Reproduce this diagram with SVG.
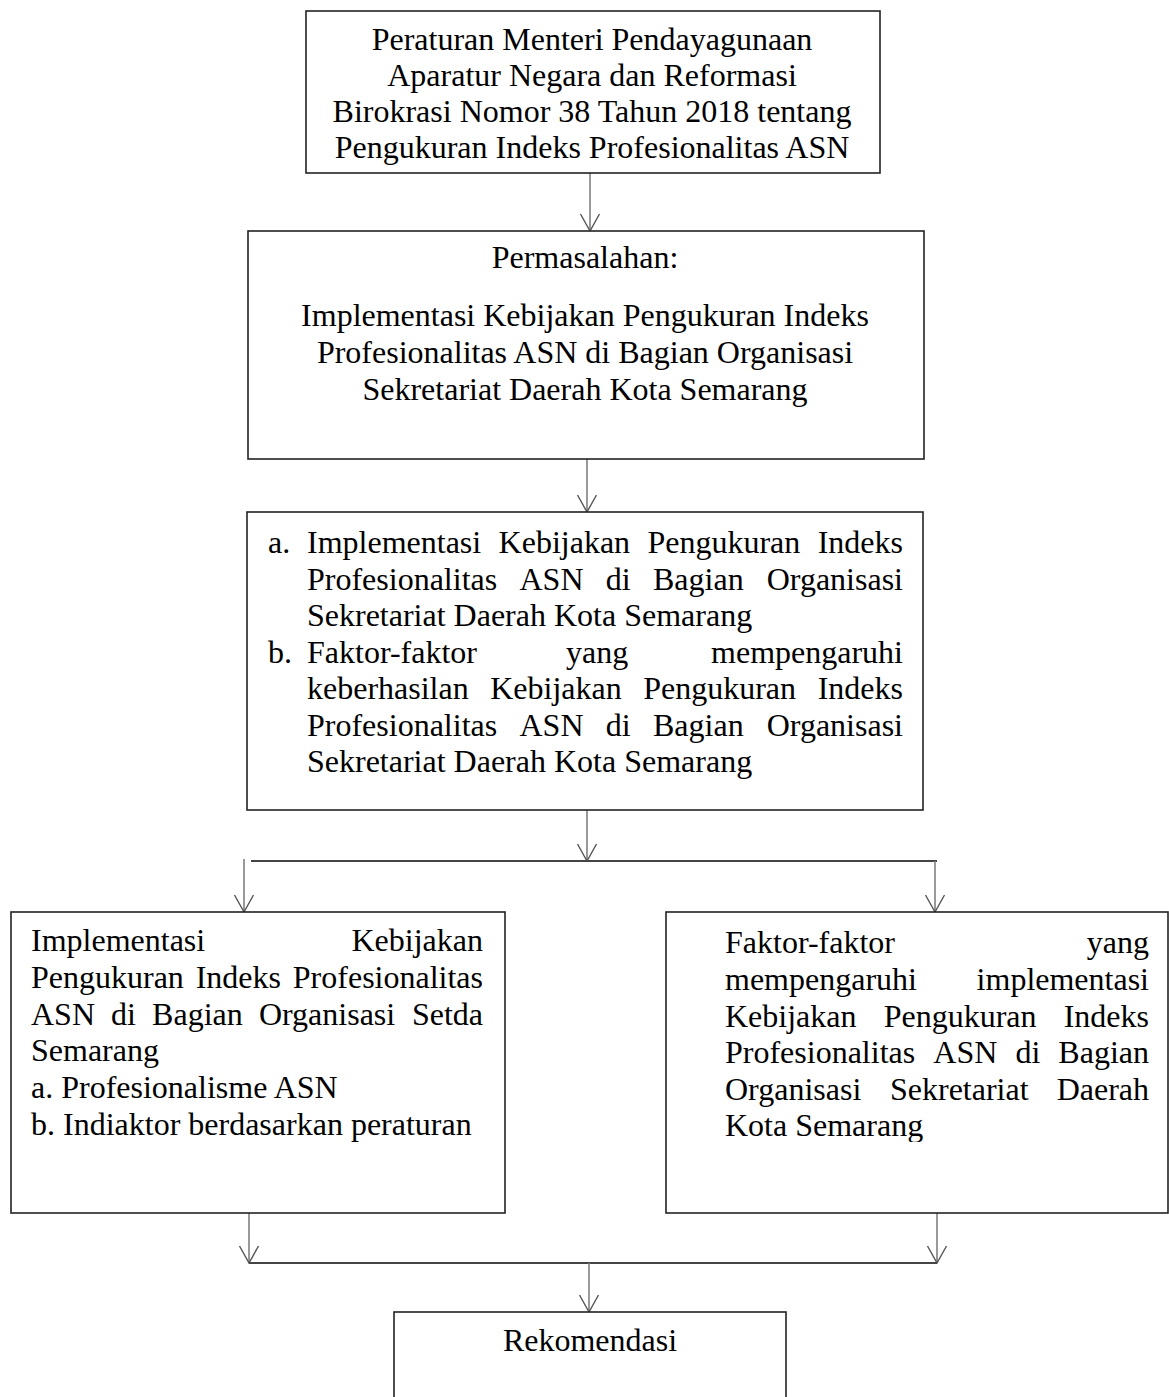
<svg xmlns="http://www.w3.org/2000/svg" width="1169" height="1397" viewBox="0 0 1169 1397">
<style>
.box{fill:#fff;stroke:#222;stroke-width:1.6}
.t{font-family:"Liberation Serif","Times New Roman",serif;font-size:32px;fill:#000}
.c{text-anchor:middle}
.e{text-anchor:end}
.con{stroke:#808080;stroke-width:1.6;fill:none}
.bar{stroke:#444;stroke-width:2;fill:none}
</style>
<defs>
<marker id="ah" markerUnits="userSpaceOnUse" viewBox="-1 -11 19 22" markerWidth="19" markerHeight="22" refX="17" refY="0" orient="auto">
<path d="M0,-9.5 L17,0 L0,9.5" fill="none" stroke="#555" stroke-width="1.4"/>
</marker>
<clipPath id="clipR"><rect x="666" y="900" width="503" height="242"/></clipPath>
</defs>
<rect width="1169" height="1397" fill="#fff"/>

<g id="connectors">
<line class="con" x1="590" y1="173" x2="590" y2="231" marker-end="url(#ah)"/>
<line class="con" x1="587" y1="459" x2="587" y2="512" marker-end="url(#ah)"/>
<line class="con" x1="587" y1="810" x2="587" y2="861" marker-end="url(#ah)"/>
<line class="bar" x1="251" y1="861" x2="937" y2="861"/>
<line class="con" x1="244" y1="859" x2="244" y2="912" marker-end="url(#ah)"/>
<line class="con" x1="935" y1="861" x2="935" y2="912" marker-end="url(#ah)"/>
<line class="con" x1="249" y1="1213" x2="249" y2="1263" marker-end="url(#ah)"/>
<line class="con" x1="937" y1="1213" x2="937" y2="1263" marker-end="url(#ah)"/>
<line class="bar" x1="249" y1="1263" x2="937" y2="1263"/>
<line class="con" x1="589" y1="1263" x2="589" y2="1312" marker-end="url(#ah)"/>
</g>

<g id="node-peraturan">
<rect class="box" x="306" y="11" width="574" height="162"/>
<text class="t c" x="592" y="50">Peraturan Menteri Pendayagunaan</text>
<text class="t c" x="592" y="86">Aparatur Negara dan Reformasi</text>
<text class="t c" x="592" y="122">Birokrasi Nomor 38 Tahun 2018 tentang</text>
<text class="t c" x="592" y="158">Pengukuran Indeks Profesionalitas ASN</text>
</g>

<g id="node-permasalahan">
<rect class="box" x="248" y="231" width="676" height="228"/>
<text class="t c" x="585" y="268">Permasalahan:</text>
<text class="t c" x="585" y="326">Implementasi Kebijakan Pengukuran Indeks</text>
<text class="t c" x="585" y="363">Profesionalitas ASN di Bagian Organisasi</text>
<text class="t c" x="585" y="400">Sekretariat Daerah Kota Semarang</text>
</g>

<g id="node-rumusan">
<rect class="box" x="247" y="512" width="676" height="298"/>
<text class="t" y="553"><tspan x="268">a.</tspan><tspan x="307">Implementasi</tspan><tspan x="498.6">Kebijakan</tspan><tspan x="647.4">Pengukuran</tspan><tspan class="e" x="903">Indeks</tspan></text>
<text class="t" y="589.5"><tspan x="307">Profesionalitas</tspan><tspan x="519.5">ASN</tspan><tspan x="605.8">di</tspan><tspan x="653">Bagian</tspan><tspan class="e" x="903">Organisasi</tspan></text>
<text class="t" x="307" y="626">Sekretariat Daerah Kota Semarang</text>
<text class="t" y="662.5"><tspan x="268">b.</tspan><tspan x="307">Faktor-faktor</tspan><tspan x="566">yang</tspan><tspan class="e" x="903">mempengaruhi</tspan></text>
<text class="t" y="699"><tspan x="307">keberhasilan</tspan><tspan x="490.2">Kebijakan</tspan><tspan x="643.2">Pengukuran</tspan><tspan class="e" x="903">Indeks</tspan></text>
<text class="t" y="735.5"><tspan x="307">Profesionalitas</tspan><tspan x="519.5">ASN</tspan><tspan x="605.8">di</tspan><tspan x="653">Bagian</tspan><tspan class="e" x="903">Organisasi</tspan></text>
<text class="t" x="307" y="772">Sekretariat Daerah Kota Semarang</text>
</g>

<g id="node-implementasi">
<rect class="box" x="11" y="912" width="494" height="301"/>
<text class="t" y="951"><tspan x="31">Implementasi</tspan><tspan class="e" x="483">Kebijakan</tspan></text>
<text class="t" y="988"><tspan x="31">Pengukuran</tspan><tspan x="195.7">Indeks</tspan><tspan class="e" x="483">Profesionalitas</tspan></text>
<text class="t" y="1024.5"><tspan x="31">ASN</tspan><tspan x="111.1">di</tspan><tspan x="152.1">Bagian</tspan><tspan x="258.9">Organisasi</tspan><tspan class="e" x="483">Setda</tspan></text>
<text class="t" x="31" y="1061">Semarang</text>
<text class="t" x="31" y="1098">a. Profesionalisme ASN</text>
<text class="t" x="31" y="1135">b. Indiaktor berdasarkan peraturan</text>
</g>

<g id="node-faktor">
<rect class="box" x="666" y="912" width="502" height="301"/>
<text class="t" y="953"><tspan x="725">Faktor-faktor</tspan><tspan class="e" x="1149">yang</tspan></text>
<text class="t" y="990"><tspan x="725">mempengaruhi</tspan><tspan class="e" x="1149">implementasi</tspan></text>
<text class="t" y="1026.5"><tspan x="725">Kebijakan</tspan><tspan x="883.7">Pengukuran</tspan><tspan class="e" x="1149">Indeks</tspan></text>
<text class="t" y="1063"><tspan x="725">Profesionalitas</tspan><tspan x="933.3">ASN</tspan><tspan x="1015.4">di</tspan><tspan class="e" x="1149">Bagian</tspan></text>
<text class="t" y="1099.5"><tspan x="725">Organisasi</tspan><tspan x="890">Sekretariat</tspan><tspan class="e" x="1149">Daerah</tspan></text>
<text class="t" x="725" y="1136" clip-path="url(#clipR)">Kota Semarang</text>
</g>

<g id="node-rekomendasi">
<rect class="box" x="394" y="1312" width="392" height="120"/>
<text class="t c" x="590" y="1351">Rekomendasi</text>
</g>
</svg>
